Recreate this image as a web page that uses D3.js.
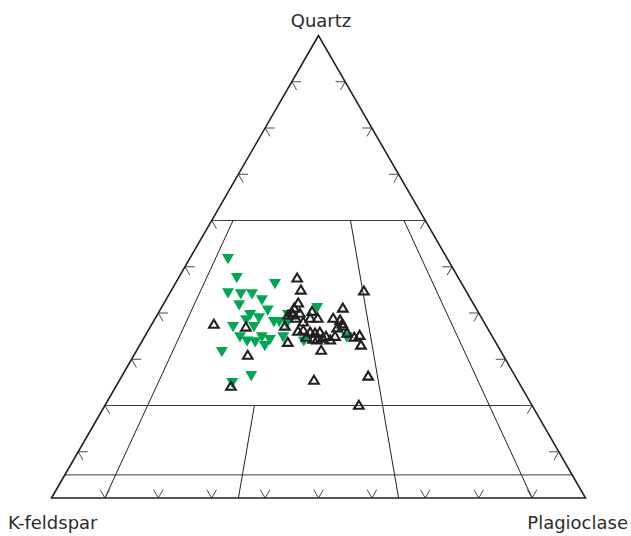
<!DOCTYPE html>
<html>
<head>
<meta charset="utf-8">
<script src="https://cdn.jsdelivr.net/npm/d3@7"></script>
<style>
  html, body { margin: 0; padding: 0; background: #fff; }
  svg { display: block; }
  .label { font-family: "DejaVu Sans", sans-serif; font-size: 18px; fill: #2b2b2b; }
</style>
</head>
<body>
<div id="chart"></div>
<script>
// QAP ternary diagram: compositions are [Quartz, K-feldspar, Plagioclase] in percent.
const vertexLabels = ["Quartz", "K-feldspar", "Plagioclase"];

// Field boundaries: horizontal lines of constant quartz content
const quartzLines = [5, 20, 60];
// Lines of constant plagioclase ratio P/(A+P), running up from the base to a quartz limit
const ratioLines = [10, 35, 65, 90];
const ratioLineTops = [60, 20, 60, 60];

// Tick positions along every edge (percent)
const tickValues = [10, 20, 30, 40, 50, 60, 70, 80, 90];

// Samples, group 1 (green, filled down-triangles)
const groupGreen = [
  [51.7, 41.1, 7.2], [47.6, 41.5, 10.9], [46.3, 35.0, 18.7], [44.3, 44.8, 10.9],
  [44.1, 42.5, 13.4], [44.1, 40.4, 15.5], [42.8, 39.2, 18.0], [41.7, 44.0, 14.3],
  [40.6, 39.2, 20.2], [39.6, 43.0, 17.4], [38.9, 41.7, 19.4], [38.5, 44.3, 17.2],
  [38.1, 39.3, 22.6], [38.1, 38.3, 23.6], [37.0, 47.5, 15.5], [37.0, 43.6, 19.4],
  [41.1, 29.7, 29.2], [39.6, 35.9, 24.5], [34.8, 47.3, 17.9], [33.9, 46.4, 19.7],
  [33.7, 45.0, 21.3], [34.8, 43.2, 22.0], [34.2, 42.0, 23.8], [32.9, 43.6, 23.5],
  [34.8, 39.2, 26.0], [33.9, 35.8, 30.3], [34.8, 27.3, 37.9], [31.6, 52.3, 16.1],
  [26.4, 49.4, 24.2], [24.9, 53.7, 21.4], [37.7, 37.1, 25.2]
];

// Samples, group 2 (black, open up-triangles)
const groupBlack = [
  [47.6, 30.2, 22.2], [45.0, 30.8, 24.2], [44.8, 19.1, 36.1], [42.2, 32.7, 25.1],
  [40.4, 31.0, 28.6], [41.1, 24.9, 34.0], [39.6, 35.9, 24.5], [39.6, 35.0, 25.4],
  [40.0, 33.5, 26.5], [38.9, 32.1, 29.0], [38.9, 30.7, 30.4], [38.9, 27.8, 33.3],
  [38.5, 26.7, 34.8], [37.6, 50.8, 11.6], [37.0, 45.1, 17.9], [37.2, 37.7, 25.1],
  [36.1, 35.8, 28.1], [36.3, 34.7, 29.0], [35.9, 33.6, 30.5], [35.7, 32.8, 31.5],
  [35.9, 31.8, 32.3], [36.8, 28.1, 35.1], [37.2, 26.8, 36.0], [35.7, 26.8, 37.5],
  [35.0, 29.4, 35.6], [34.2, 30.7, 35.1], [34.8, 34.9, 30.3], [34.4, 33.8, 31.8],
  [34.2, 33.2, 32.6], [33.7, 38.9, 27.4], [34.8, 25.9, 39.3], [35.2, 24.7, 40.1],
  [33.1, 25.5, 41.4], [32.0, 33.5, 34.5], [30.9, 47.8, 21.3], [26.4, 27.5, 46.1],
  [25.5, 38.1, 36.4], [24.2, 54.3, 21.5], [20.1, 32.4, 47.5], [41.1, 34.0, 24.9],
  [38.1, 33.8, 28.1], [35.0, 31.1, 33.9], [38.9, 34.8, 26.3], [34.6, 31.9, 33.5],
  [37.7, 26.7, 35.6], [40.2, 34.9, 24.9]
];

const width = 631, height = 536;
const H = Math.sqrt(3) / 2;

// Cartesian frame of the triangle: x = P + Q/2, y = Q * sqrt(3)/2 (fractions)
const xScale = d3.scaleLinear().domain([0, 1]).range([51.5, 585.5]);
const yScale = d3.scaleLinear().domain([0, H]).range([498, 35.5]);

function project([q, a, p]) {
  const s = q + a + p;
  const qf = q / s, pf = p / s;
  return [xScale(pf + qf / 2), yScale(qf * H)];
}

const svg = d3.select("#chart").append("svg")
  .attr("width", width).attr("height", height);

const line = d3.line();

// Field boundary lines
const gLines = svg.append("g")
  .attr("fill", "none").attr("stroke", "#231f20").attr("stroke-width", 1);

quartzLines.forEach(q => {
  gLines.append("path")
    .attr("stroke", "#3a3a3a")
    .attr("d", line([project([q, 100 - q, 0]), project([q, 0, 100 - q])]));
});

ratioLines.forEach((r, i) => {
  const top = ratioLineTops[i];
  const rest = 100 - top;
  gLines.append("path")
    .attr("d", line([
      project([0, 100 - r, r]),
      project([top, rest * (100 - r) / 100, rest * r / 100])
    ]));
});

// Edge ticks: two short arms along the grid directions through each point
const d = 1.8;
const gTicks = svg.append("g")
  .attr("fill", "none").attr("stroke", "#4a4a4a").attr("stroke-width", 1);

tickValues.forEach(v => {
  // left edge (Q–A side)
  gTicks.append("path").attr("d", line([
    project([v, 100 - v - d, d]), project([v, 100 - v, 0]), project([v - d, 100 - v, d])
  ]));
  // base (A–P side)
  gTicks.append("path").attr("d", line([
    project([d, 100 - v - d, v]), project([0, 100 - v, v]), project([d, 100 - v, v - d])
  ]));
  // right edge (Q–P side)
  gTicks.append("path").attr("d", line([
    project([v, d, 100 - v - d]), project([v, 0, 100 - v]), project([v - d, d, 100 - v])
  ]));
});

// Triangle outline
svg.append("path")
  .attr("fill", "none").attr("stroke", "#231f20").attr("stroke-width", 1.6)
  .attr("stroke-linejoin", "miter")
  .attr("d", line([project([100, 0, 0]), project([0, 100, 0]), project([0, 0, 100])]) + "Z");

// Marker shapes
const downTri = "M-6,-4.8L6,-4.8L0,5.4Z";
const upTri = "M0,-4.3L4.8,3.7L-4.8,3.7Z";

svg.append("g").selectAll("path")
  .data(groupGreen).join("path")
  .attr("transform", c => `translate(${project(c)})`)
  .attr("d", downTri)
  .attr("fill", "#00a651");

svg.append("g").selectAll("path")
  .data(groupBlack).join("path")
  .attr("transform", c => `translate(${project(c)})`)
  .attr("d", upTri)
  .attr("fill", "none")
  .attr("stroke", "#231f20")
  .attr("stroke-width", 2.1)
  .attr("stroke-linejoin", "miter");

// Vertex labels
svg.append("text").attr("class", "label")
  .attr("x", 321).attr("y", 27).attr("text-anchor", "middle")
  .text(vertexLabels[0]);
svg.append("text").attr("class", "label")
  .attr("x", 8).attr("y", 529).attr("text-anchor", "start")
  .text(vertexLabels[1]);
svg.append("text").attr("class", "label")
  .attr("x", 628).attr("y", 529).attr("text-anchor", "end")
  .text(vertexLabels[2]);
</script>
</body>
</html>
